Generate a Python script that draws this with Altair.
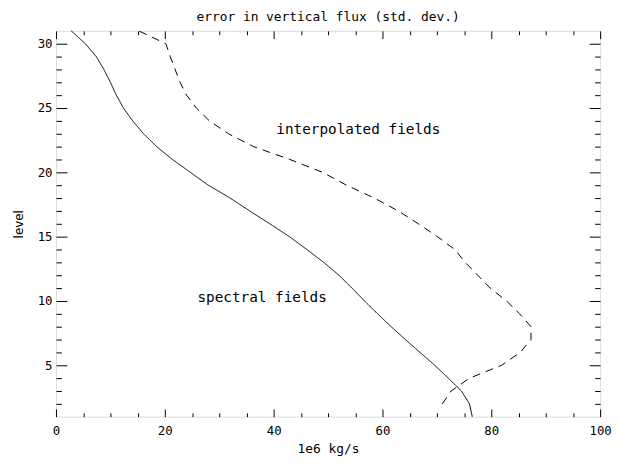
import altair as alt
import pandas as pd

# ---- data ----
levels_spectral = [1, 2, 3, 4, 5, 6, 7, 8, 9, 10, 11, 12, 13, 14, 15, 16,
                   17, 18, 19, 20, 21, 22, 23, 24, 25, 26, 27, 28, 29, 30, 31]
flux_spectral = [76.5, 76.0, 74.5, 72.1, 69.6, 66.9, 64.2, 61.6, 59.1, 56.7,
                 54.4, 52.0, 49.2, 46.1, 42.9, 39.3, 35.6, 32.0, 28.0, 24.7,
                 21.4, 18.5, 16.1, 14.1, 12.4, 11.1, 10.0, 8.8, 7.4, 5.4, 2.8]

levels_interp = [2, 3, 4, 5, 6, 7, 8, 9, 10, 11, 12, 13, 14, 15, 16,
                 17, 18, 19, 20, 21, 22, 23, 24, 25, 26, 27, 28, 29, 30, 31]
flux_interp = [71.0, 72.6, 76.0, 81.9, 85.3, 87.3, 87.3, 85.2, 82.8, 79.8,
               77.5, 75.2, 73.3, 70.1, 66.6, 62.9, 58.5, 53.4, 49.0, 43.0,
               36.3, 31.7, 28.2, 25.8, 24.0, 22.8, 21.9, 21.0, 20.2, 15.2]

note_text = ["spectral fields", "interpolated fields"]
note_x = [26.0, 40.5]
note_level = [9.9, 23.0]

x_major = [0, 20, 40, 60, 80, 100]
x_minor = [5, 10, 15, 25, 30, 35, 45, 50, 55, 65, 70, 75, 85, 90, 95]
y_major = [5, 10, 15, 20, 25, 30]
y_minor = [2, 3, 4, 6, 7, 8, 9, 11, 12, 13, 14, 16, 17, 18, 19,
           21, 22, 23, 24, 26, 27, 28, 29]

W, H = 550, 390
MONO = "DejaVu Sans Mono"

df = pd.DataFrame({
    "level": levels_spectral + levels_interp,
    "flux": flux_spectral + flux_interp,
    "series": ["spectral"] * len(levels_spectral) + ["interpolated"] * len(levels_interp),
})
notes = pd.DataFrame({"text": note_text, "flux": note_x, "level": note_level})

xscale = alt.Scale(domain=[0, 100], nice=False, zero=False)
yscale = alt.Scale(domain=[1, 31], nice=False, zero=False)

lines = alt.Chart(df).mark_line(color="black", strokeWidth=1).encode(
    x=alt.X("flux:Q", scale=xscale, axis=alt.Axis(
        orient="bottom", values=x_major, ticks=False, tickSize=0, domain=False,
        grid=False, labelPadding=8, labelFont=MONO, labelFontSize=12.5,
        labelColor="black", labelFlush=False, labelOverlap=False,
        title="1e6 kg/s", titleFont=MONO, titleFontSize=13,
        titleFontWeight="normal", titleColor="black", titleY=36,
        titleBaseline="alphabetic")),
    y=alt.Y("level:Q", scale=yscale, axis=alt.Axis(
        orient="left", values=y_major, ticks=False, tickSize=0, domain=False,
        grid=False, labelPadding=4, labelFont=MONO, labelFontSize=12.5,
        labelColor="black", labelFlush=False, labelOverlap=False,
        title="level", titleFont="DejaVu Sans", titleFontSize=12,
        titleFontWeight="normal", titleColor="black", titleX=-38,
        titleY=H / 2, titleAngle=270, titleBaseline="middle",
        titleAlign="center")),
    strokeDash=alt.StrokeDash("series:N", scale=alt.Scale(
        domain=["spectral", "interpolated"], range=[[1, 0], [8, 6]]), legend=None),
    order=alt.Order("level:Q"),
)


def tick_axis(orient, values, size, offset):
    return alt.Axis(orient=orient, values=values, tickSize=size, offset=offset,
                    labels=False, domain=False, grid=False, title=None,
                    ticks=True, tickColor="black", tickWidth=1)


def tick_layer(xo, yo, xv, yv, xs, ys):
    return alt.Chart(df).mark_point(opacity=0).encode(
        x=alt.X("flux:Q", scale=xscale, axis=tick_axis(xo, xv, xs, -H)),
        y=alt.Y("level:Q", scale=yscale, axis=tick_axis(yo, yv, ys, -W)),
    )


t1 = tick_layer("top", "right", x_major, y_major, 7.8, 11)
t2 = tick_layer("top", "right", x_minor, y_minor, 3.9, 5.5)
t3 = tick_layer("bottom", "left", x_major, y_major, 7.8, 11)
t4 = tick_layer("bottom", "left", x_minor, y_minor, 3.9, 5.5)

text = alt.Chart(notes).mark_text(
    font=MONO, fontSize=14.5, align="left", baseline="alphabetic", color="black"
).encode(
    x=alt.X("flux:Q", scale=xscale, axis=None),
    y=alt.Y("level:Q", scale=yscale, axis=None),
    text="text:N",
)

chart = alt.layer(lines, t1, t2, t3, t4, text).resolve_axis(
    x="independent", y="independent"
).properties(
    width=W, height=H,
    title=alt.TitleParams("error in vertical flux (std. dev.)", font=MONO,
                          fontSize=13, fontWeight="normal", color="black",
                          anchor="middle", frame="group", baseline="alphabetic",
                          offset=7, dy=12.5),
    autosize=alt.AutoSizeParams(type="none"),
    padding={"left": 48.5, "top": 20.7, "right": 12, "bottom": 40},
).configure_view(stroke="black", strokeWidth=1).configure(background="white")

chart.save("out.html", embed_options={"renderer": "svg", "actions": False})
